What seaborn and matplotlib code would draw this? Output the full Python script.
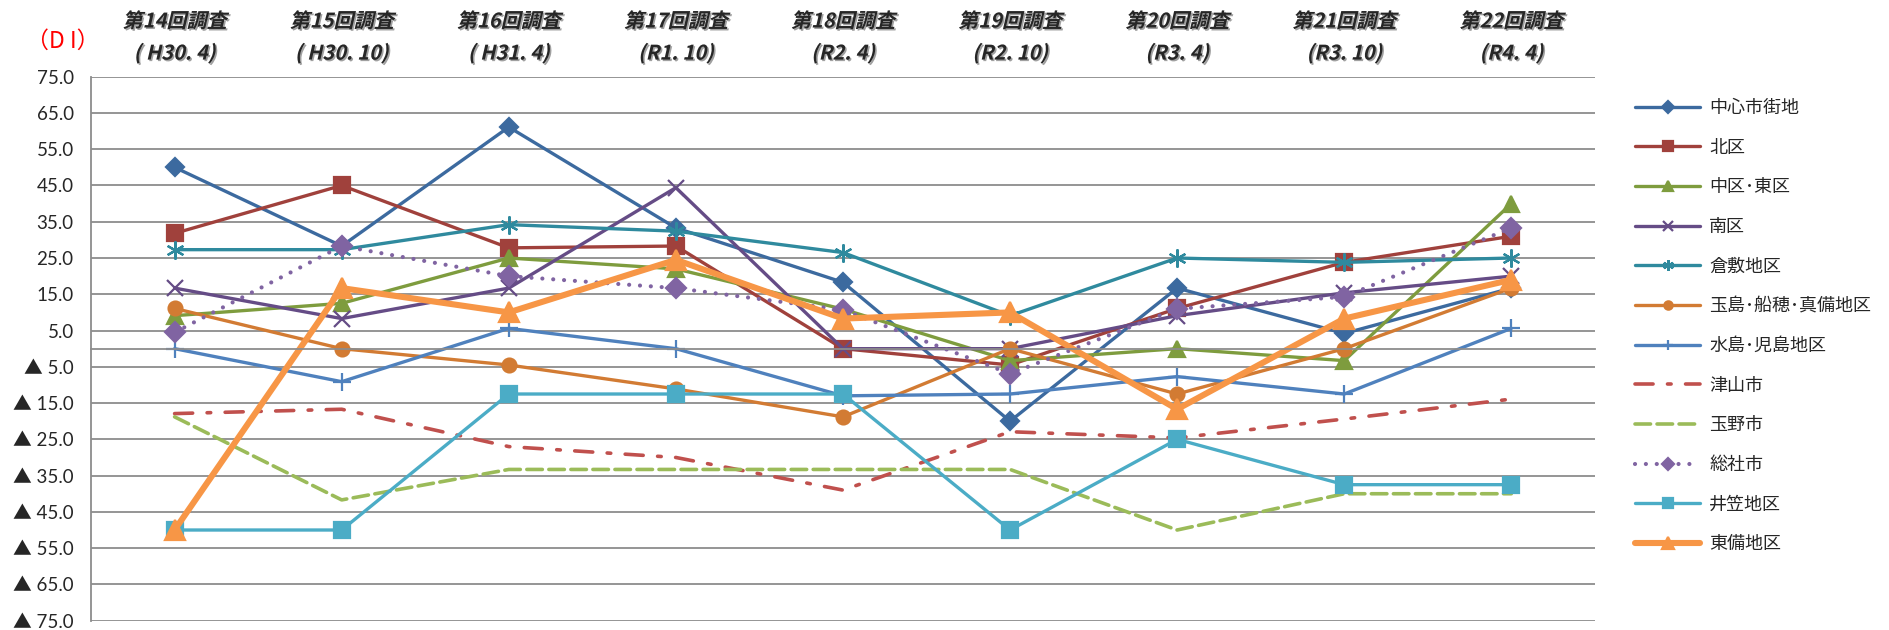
import numpy as np
import pandas as pd
import matplotlib
matplotlib.use("Agg")
import matplotlib.pyplot as plt
import matplotlib.patheffects as pe
from matplotlib.colors import to_rgba
from matplotlib.transforms import Affine2D, blended_transform_factory
import seaborn as sns

# survey rounds (top labels)
rounds = ["第14回調査", "第15回調査", "第16回調査", "第17回調査", "第18回調査",
          "第19回調査", "第20回調査", "第21回調査", "第22回調査"]
periods = ["( H30. 4)", "( H30. 10)", "( H31. 4)", "(R1. 10)", "(R2. 4)",
           "(R2. 10)", "(R3. 4)", "(R3. 10)", "(R4. 4)"]

# DI values per area
chushin = [50.0, 28.3, 61.1, 33.3, 18.3, -20.0, 16.7, 4.2, 16.7]
kita = [31.8, 45.0, 27.8, 28.3, 0.0, -4.5, 11.1, 23.8, 31.0]
naka_higashi = [9.1, 12.5, 25.0, 22.0, 10.9, -3.3, 0.0, -3.3, 40.0]
minami = [16.7, 8.3, 16.7, 44.4, 0.0, 0.0, 9.1, 15.4, 20.0]
kurashiki = [27.3, 27.3, 34.2, 32.4, 26.5, 9.1, 25.0, 23.8, 25.0]
tamashima = [11.1, 0.0, -4.5, -11.1, -18.8, 0.0, -12.5, 0.0, 16.7]
mizushima = [0.0, -9.1, 5.6, 0.0, -13.0, -12.5, -7.7, -12.5, 5.6]
tsuyama = [-17.9, -16.7, -27.0, -30.0, -39.0, -22.9, -24.6, -19.4, -13.9]
tamano = [-18.8, -41.7, -33.3, -33.3, -33.3, -33.3, -50.0, -40.0, -40.0]
soja = [4.5, 28.3, 20.0, 16.7, 10.7, -6.9, 11.0, 14.3, 33.3]
ikasa = [-50.0, -50.0, -12.5, -12.5, -12.5, -50.0, -25.0, -37.5, -37.5]
tobi = [-50.0, 16.7, 10.0, 24.5, 8.3, 10.0, -16.7, 8.3, 19.0]

names = ["中心市街地", "北区", "中区･東区", "南区", "倉敷地区", "玉島･船穂･真備地区",
         "水島･児島地区", "津山市", "玉野市", "総社市", "井笠地区", "東備地区"]
values = [chushin, kita, naka_higashi, minami, kurashiki, tamashima,
          mizushima, tsuyama, tamano, soja, ikasa, tobi]

# line styles: color, marker, size, linestyle, linewidth
styles = [
    ("#3C6A9F", "D", 9.5, "-", 2.4),
    ("#A0413C", "s", 11, "-", 2.4),
    ("#7E9C3E", "^", 12, "-", 2.4),
    ("#654C86", "x", 11, "-", 2.4),
    ("#2F8A9E", (6, 2, 0), 13, "-", 2.4),
    ("#D27B33", "o", 10, "-", 2.4),
    ("#4F81BD", "+", 13, "-", 2.4),
    ("#C0504D", None, 0, (0, (5, 4, 1, 4)), 2.6),
    ("#9BBB59", None, 0, (0, (4.3, 1.8)), 2.6),
    ("#8064A2", "D", 10, (0, (0.01, 2.6)), 3.0),
    ("#4BACC6", "s", 12, "-", 2.4),
    ("#F79646", "^", 14, "-", 4.4),
]


class ItalicShadow(pe.AbstractPathEffect):
    """slanted text with a small grey drop shadow"""

    def draw_path(self, renderer, gc, tpath, affine, rgbFace):
        sk = Affine2D().skew_deg(13, 0)
        off = renderer.points_to_pixels(1.1)
        grey = to_rgba("#A0A0A0")
        gc0 = renderer.new_gc()
        gc0.copy_properties(gc)
        gc0.set_foreground(grey)
        renderer.draw_path(gc0, tpath, sk + affine + Affine2D().translate(off, -off), grey)
        gc0.restore()
        renderer.draw_path(gc, tpath, sk + affine, rgbFace)


sns.set_style("white")
plt.rcParams["font.family"] = ["Lato", "Noto Sans CJK JP", "DejaVu Sans"]
cjk = ["Noto Sans CJK JP", "DejaVu Sans"]

fig = plt.figure(figsize=(18.89, 6.30), dpi=100)
ax = fig.add_axes([0.0482, 0.0148, 0.7961, 0.8635])

x = np.arange(len(rounds))
handles = []
for name, vals, (col, mk, ms, ls, lw) in zip(names, values, styles):
    df = pd.DataFrame({"x": x, "y": vals})
    kw = dict(color=col, linestyle=ls, linewidth=lw, label=name,
              dash_capstyle="round", legend=False)
    if mk is not None:
        kw.update(marker=mk, markersize=ms, markeredgecolor=col,
                  markerfacecolor=col, markeredgewidth=1.6)
    sns.lineplot(data=df, x="x", y="y", ax=ax, **kw)
    handles.append(ax.lines[-1])

grid_c = "#8C8C8C"
yt = np.arange(75, -76, -10)
ax.set_ylim(-75, 75)
ax.set_yticks(yt)
ax.set_yticklabels([f"{v:.1f}" if v > 0 else f"▲ {abs(v):.1f}" for v in yt],
                   fontsize=13.5)
ax.yaxis.grid(True, color=grid_c, linewidth=1.3)
ax.set_axisbelow(True)
ax.tick_params(axis="y", length=4.5, width=1.2, color=grid_c, pad=8)

ax.set_xlim(-0.5, len(rounds) - 0.5)
ax.set_xticks(np.arange(len(rounds) + 1) - 0.5)
ax.set_xticklabels([])
ax.tick_params(axis="x", length=4.5, width=1.2, color=grid_c, direction="out")
ax.set_xlabel("")
ax.set_ylabel("")

for s in ["top", "right"]:
    ax.spines[s].set_visible(False)
ax.spines["bottom"].set_position(("data", 0))
ax.spines["bottom"].set_color(grid_c)
ax.spines["bottom"].set_linewidth(1.3)
ax.spines["left"].set_color(grid_c)
ax.spines["left"].set_linewidth(1.3)

# top labels
tr = blended_transform_factory(ax.transData, fig.transFigure)
for i, (r, p) in enumerate(zip(rounds, periods)):
    ax.text(i, 1 - 21 / 630, r, transform=tr, ha="center", va="center",
            fontsize=14.5, fontweight="bold", family=cjk, path_effects=[ItalicShadow()])
    ax.text(i, 1 - 53 / 630, p, transform=tr, ha="center", va="center",
            fontsize=14.5, fontweight="bold", family=cjk, path_effects=[ItalicShadow()])

fig.text(63 / 1889, 1 - 41 / 630, "（D I）", color="#FF0000", fontsize=16.5,
         ha="center", va="center", family=cjk)

fig.legend(handles=handles, labels=names, loc="upper left",
           bbox_to_anchor=(1635 / 1889, 1 - 99 / 630), frameon=False,
           borderpad=0, borderaxespad=0, handlelength=3.6, handletextpad=0.5,
           labelspacing=1.2, markerscale=0.6,
           prop={"family": cjk, "size": 13})

fig.savefig("out.png", dpi=100)
